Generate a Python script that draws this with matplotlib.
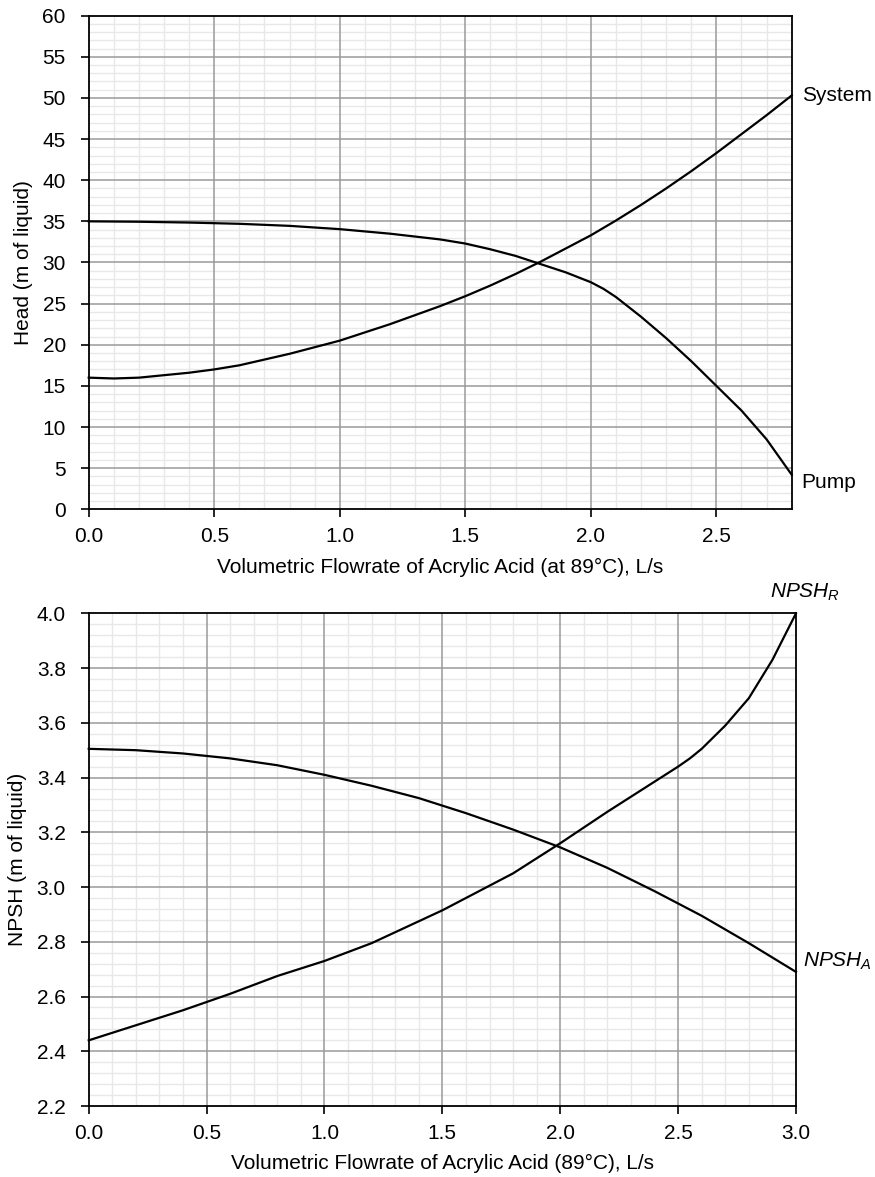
import matplotlib
matplotlib.use("Agg")
import matplotlib.pyplot as plt
from matplotlib.ticker import MultipleLocator, FormatStrFormatter

plt.rcParams['font.family'] = ['Liberation Sans', 'DejaVu Sans']
plt.rcParams['mathtext.fontset'] = 'custom'
plt.rcParams['mathtext.it'] = 'Liberation Sans:italic'
plt.rcParams['mathtext.rm'] = 'Liberation Sans'

# top chart: pump and system curves
pump_q = [0.0, 0.2, 0.4, 0.6, 0.8, 1.0, 1.2, 1.4, 1.5, 1.6, 1.7, 1.8, 1.9, 2.0,
          2.05, 2.1, 2.2, 2.3, 2.4, 2.5, 2.6, 2.7, 2.8]
pump_h = [35.0, 34.95, 34.85, 34.7, 34.45, 34.05, 33.5, 32.8, 32.3, 31.6, 30.8, 29.8, 28.8, 27.6,
          26.8, 25.8, 23.4, 20.8, 18.0, 15.0, 12.0, 8.5, 4.2]
sys_q = [0.0, 0.1, 0.2, 0.3, 0.4, 0.5, 0.6, 0.7, 0.8, 0.9, 1.0, 1.1, 1.2, 1.3, 1.4,
         1.5, 1.6, 1.7, 1.8, 1.9, 2.0, 2.1, 2.2, 2.3, 2.4, 2.5, 2.6, 2.7, 2.8]
sys_h = [16.0, 15.9, 16.0, 16.3, 16.6, 17.0, 17.5, 18.2, 18.9, 19.7, 20.5, 21.5, 22.5, 23.6, 24.7,
         25.9, 27.2, 28.6, 30.1, 31.7, 33.3, 35.1, 37.0, 39.0, 41.1, 43.3, 45.6, 47.9, 50.3]

# bottom chart: NPSH available / required
npsha_q = [0.0, 0.2, 0.4, 0.6, 0.8, 1.0, 1.2, 1.4, 1.6, 1.8, 2.0, 2.2, 2.4, 2.6, 2.8, 3.0]
npsha_h = [3.505, 3.5, 3.488, 3.47, 3.445, 3.41, 3.37, 3.325, 3.27, 3.21, 3.145, 3.07, 2.985, 2.895, 2.795, 2.69]
npshr_q = [0.0, 0.2, 0.4, 0.6, 0.8, 1.0, 1.2, 1.4, 1.5, 1.6, 1.8, 2.0, 2.2, 2.4, 2.5, 2.55,
           2.6, 2.7, 2.8, 2.9, 3.0]
npshr_h = [2.44, 2.495, 2.55, 2.61, 2.675, 2.73, 2.795, 2.875, 2.915, 2.96, 3.05, 3.16, 3.275, 3.385, 3.44, 3.47,
           3.505, 3.59, 3.69, 3.83, 4.0]

fs = 15
fig = plt.figure(figsize=(8.75, 11.77), dpi=100)
ax1 = fig.add_axes([0.1014, 0.5673, 0.8034, 0.4194])
ax2 = fig.add_axes([0.1014, 0.0603, 0.8083, 0.4186])


def style(ax, xmax, ymin, ymax, xmaj, ymaj, xminor, yminor):
    ax.set_xlim(0, xmax)
    ax.set_ylim(ymin, ymax)
    ax.xaxis.set_major_locator(MultipleLocator(xmaj))
    ax.yaxis.set_major_locator(MultipleLocator(ymaj))
    ax.xaxis.set_minor_locator(MultipleLocator(xminor))
    ax.yaxis.set_minor_locator(MultipleLocator(yminor))
    # light minor grid underneath, darker major grid on top of it
    ax.grid(which='minor', color='#e8e8e8', linewidth=1.0)
    ax.set_axisbelow(True)
    for v in ax.get_xticks():
        if 0 < v < xmax:
            ax.axvline(v, color='#9a9a9a', linewidth=1.1, zorder=0.8)
    for v in ax.get_yticks():
        if ymin < v < ymax:
            ax.axhline(v, color='#9a9a9a', linewidth=1.1, zorder=0.8)
    ax.tick_params(which='major', direction='out', length=5.5, width=1.2, labelsize=fs)
    ax.tick_params(axis='y', which='major', pad=11)
    ax.tick_params(axis='x', which='major', pad=7.5)
    ax.tick_params(which='minor', length=0)
    for s in ax.spines.values():
        s.set_linewidth(1.3)
        s.set_color('black')


style(ax1, 2.8, 0, 60, 0.5, 5, 0.1, 1)
ax1.plot(pump_q, pump_h, color='black', lw=1.6, clip_on=False, zorder=3)
ax1.plot(sys_q, sys_h, color='black', lw=1.6, clip_on=False, zorder=3)
ax1.xaxis.set_major_formatter(FormatStrFormatter('%.1f'))
ax1.set_xlabel("Volumetric Flowrate of Acrylic Acid (at 89\u00b0C), L/s", fontsize=fs, labelpad=8)
ax1.set_ylabel("Head (m of liquid)", fontsize=fs, labelpad=7)
ax1.text(2.84, 50.3, "System", fontsize=fs, va='center', ha='left')
ax1.text(2.84, 3.3, "Pump", fontsize=fs, va='center', ha='left')

style(ax2, 3.0, 2.2, 4.0, 0.5, 0.2, 0.1, 0.04)
ax2.plot(npsha_q, npsha_h, color='black', lw=1.6, clip_on=False, zorder=3)
ax2.plot(npshr_q, npshr_h, color='black', lw=1.6, clip_on=False, zorder=3)
ax2.xaxis.set_major_formatter(FormatStrFormatter('%.1f'))
ax2.yaxis.set_major_formatter(FormatStrFormatter('%.1f'))
ax2.set_xlabel("Volumetric Flowrate of Acrylic Acid (89\u00b0C), L/s", fontsize=fs, labelpad=8)
ax2.set_ylabel("NPSH (m of liquid)", fontsize=fs, labelpad=7)
ax2.text(3.04, 4.075, r"$\mathit{NPSH}_\mathit{R}$", fontsize=fs, va='center', ha='center')
ax2.text(3.03, 2.73, r"$\mathit{NPSH}_\mathit{A}$", fontsize=fs, va='center', ha='left')

fig.savefig("out.png", dpi=100)
